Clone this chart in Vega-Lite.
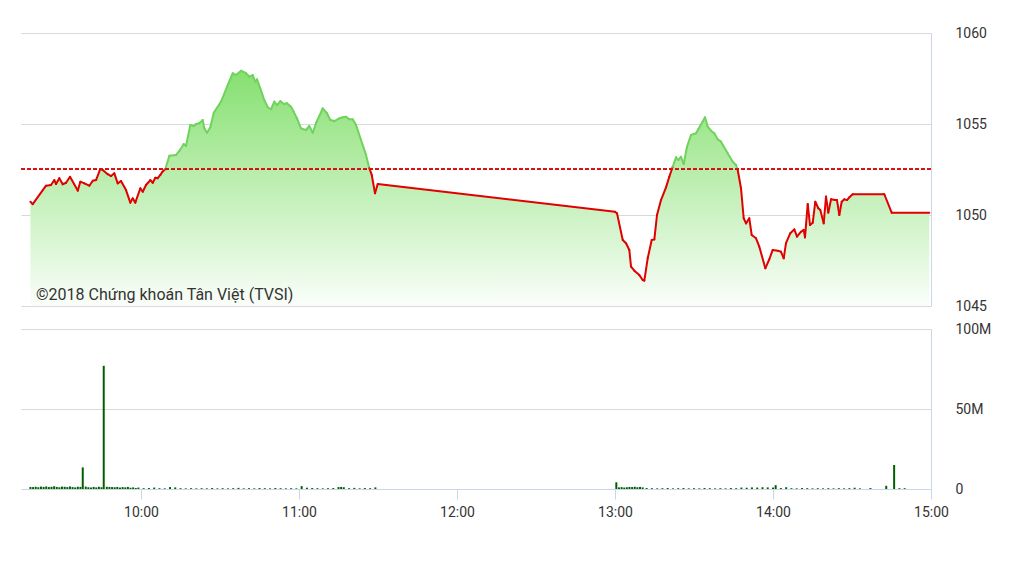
{
  "$schema": "https://vega.github.io/schema/vega-lite/v6.json",
  "background": "white",
  "padding": {"top": 26, "left": 20, "right": 5, "bottom": 5},
  "bounds": "flush",
  "spacing": 23,
  "config": {
    "view": {"stroke": null},
    "font": "Roboto",
    "axis": {
      "labelFont": "Roboto",
      "labelFontSize": 14,
      "labelColor": "#333333",
      "gridColor": "#d9d9d9",
      "domainColor": "#ccd6eb",
      "tickColor": "#ccd6eb",
      "title": null
    }
  },
  "vconcat": [
    {
      "width": 910,
      "height": 273,
      "data": {
        "format": {"parse": {"t": "date"}},
        "values": [
          {"t": "2018-01-01T09:18:00", "p": 1050.73},
          {"t": "2018-01-01T09:18:52", "p": 1050.60},
          {"t": "2018-01-01T09:23:55", "p": 1051.61},
          {"t": "2018-01-01T09:25:49", "p": 1051.65},
          {"t": "2018-01-01T09:27:05", "p": 1051.92},
          {"t": "2018-01-01T09:27:43", "p": 1051.70},
          {"t": "2018-01-01T09:28:58", "p": 1052.02},
          {"t": "2018-01-01T09:30:16", "p": 1051.69},
          {"t": "2018-01-01T09:31:31", "p": 1051.77},
          {"t": "2018-01-01T09:33:02", "p": 1052.10},
          {"t": "2018-01-01T09:35:58", "p": 1051.34},
          {"t": "2018-01-01T09:36:57", "p": 1051.83},
          {"t": "2018-01-01T09:38:28", "p": 1051.74},
          {"t": "2018-01-01T09:40:22", "p": 1051.61},
          {"t": "2018-01-01T09:41:40", "p": 1051.88},
          {"t": "2018-01-01T09:42:55", "p": 1051.92},
          {"t": "2018-01-01T09:44:32", "p": 1052.53},
          {"t": "2018-01-01T09:45:27", "p": 1052.47},
          {"t": "2018-01-01T09:47:21", "p": 1052.24},
          {"t": "2018-01-01T09:48:37", "p": 1052.14},
          {"t": "2018-01-01T09:49:52", "p": 1052.29},
          {"t": "2018-01-01T09:51:09", "p": 1051.74},
          {"t": "2018-01-01T09:52:24", "p": 1051.87},
          {"t": "2018-01-01T09:54:18", "p": 1051.37},
          {"t": "2018-01-01T09:55:56", "p": 1050.68},
          {"t": "2018-01-01T09:56:51", "p": 1050.92},
          {"t": "2018-01-01T09:57:50", "p": 1050.68},
          {"t": "2018-01-01T09:59:44", "p": 1051.47},
          {"t": "2018-01-01T10:00:39", "p": 1051.28},
          {"t": "2018-01-01T10:01:54", "p": 1051.65},
          {"t": "2018-01-01T10:03:32", "p": 1051.92},
          {"t": "2018-01-01T10:04:27", "p": 1051.77},
          {"t": "2018-01-01T10:05:26", "p": 1052.05},
          {"t": "2018-01-01T10:06:20", "p": 1052.02},
          {"t": "2018-01-01T10:07:20", "p": 1052.20},
          {"t": "2018-01-01T10:07:58", "p": 1052.35},
          {"t": "2018-01-01T10:09:14", "p": 1052.53},
          {"t": "2018-01-01T10:10:45", "p": 1053.26},
          {"t": "2018-01-01T10:13:17", "p": 1053.30},
          {"t": "2018-01-01T10:14:33", "p": 1053.52},
          {"t": "2018-01-01T10:16:13", "p": 1053.90},
          {"t": "2018-01-01T10:17:05", "p": 1053.79},
          {"t": "2018-01-01T10:18:43", "p": 1054.95},
          {"t": "2018-01-01T10:20:01", "p": 1054.89},
          {"t": "2018-01-01T10:20:53", "p": 1055.00},
          {"t": "2018-01-01T10:22:08", "p": 1055.04},
          {"t": "2018-01-01T10:23:26", "p": 1055.22},
          {"t": "2018-01-01T10:24:02", "p": 1054.76},
          {"t": "2018-01-01T10:25:04", "p": 1054.52},
          {"t": "2018-01-01T10:26:19", "p": 1054.82},
          {"t": "2018-01-01T10:27:37", "p": 1055.62},
          {"t": "2018-01-01T10:30:23", "p": 1056.23},
          {"t": "2018-01-01T10:32:55", "p": 1057.14},
          {"t": "2018-01-01T10:34:49", "p": 1057.79},
          {"t": "2018-01-01T10:36:05", "p": 1057.69},
          {"t": "2018-01-01T10:37:59", "p": 1057.93},
          {"t": "2018-01-01T10:39:52", "p": 1057.79},
          {"t": "2018-01-01T10:41:08", "p": 1057.60},
          {"t": "2018-01-01T10:42:25", "p": 1057.69},
          {"t": "2018-01-01T10:43:24", "p": 1057.32},
          {"t": "2018-01-01T10:44:03", "p": 1057.46},
          {"t": "2018-01-01T10:45:18", "p": 1056.96},
          {"t": "2018-01-01T10:46:49", "p": 1056.32},
          {"t": "2018-01-01T10:48:07", "p": 1055.92},
          {"t": "2018-01-01T10:49:22", "p": 1055.81},
          {"t": "2018-01-01T10:50:37", "p": 1056.23},
          {"t": "2018-01-01T10:51:39", "p": 1056.04},
          {"t": "2018-01-01T10:52:54", "p": 1056.26},
          {"t": "2018-01-01T10:54:11", "p": 1056.10},
          {"t": "2018-01-01T10:55:26", "p": 1056.14},
          {"t": "2018-01-01T10:56:58", "p": 1055.95},
          {"t": "2018-01-01T10:57:59", "p": 1055.68},
          {"t": "2018-01-01T10:59:14", "p": 1055.31},
          {"t": "2018-01-01T11:00:46", "p": 1054.76},
          {"t": "2018-01-01T11:02:40", "p": 1054.67},
          {"t": "2018-01-01T11:03:55", "p": 1054.89},
          {"t": "2018-01-01T11:05:12", "p": 1054.52},
          {"t": "2018-01-01T11:06:27", "p": 1055.04},
          {"t": "2018-01-01T11:09:00", "p": 1055.86},
          {"t": "2018-01-01T11:10:38", "p": 1055.59},
          {"t": "2018-01-01T11:11:53", "p": 1055.22},
          {"t": "2018-01-01T11:13:24", "p": 1055.16},
          {"t": "2018-01-01T11:15:18", "p": 1055.31},
          {"t": "2018-01-01T11:16:36", "p": 1055.37},
          {"t": "2018-01-01T11:17:51", "p": 1055.40},
          {"t": "2018-01-01T11:19:06", "p": 1055.26},
          {"t": "2018-01-01T11:20:23", "p": 1055.26},
          {"t": "2018-01-01T11:21:39", "p": 1054.95},
          {"t": "2018-01-01T11:23:33", "p": 1054.12},
          {"t": "2018-01-01T11:25:26", "p": 1053.30},
          {"t": "2018-01-01T11:26:42", "p": 1052.57},
          {"t": "2018-01-01T11:27:37", "p": 1052.20},
          {"t": "2018-01-01T11:28:52", "p": 1051.19},
          {"t": "2018-01-01T11:29:53", "p": 1051.70},
          {"t": "2018-01-01T13:00:00", "p": 1050.18},
          {"t": "2018-01-01T13:00:46", "p": 1050.09},
          {"t": "2018-01-01T13:02:56", "p": 1048.63},
          {"t": "2018-01-01T13:04:11", "p": 1048.45},
          {"t": "2018-01-01T13:05:26", "p": 1048.08},
          {"t": "2018-01-01T13:06:05", "p": 1047.16},
          {"t": "2018-01-01T13:07:20", "p": 1046.94},
          {"t": "2018-01-01T13:09:14", "p": 1046.70},
          {"t": "2018-01-01T13:10:31", "p": 1046.43},
          {"t": "2018-01-01T13:11:08", "p": 1046.39},
          {"t": "2018-01-01T13:12:25", "p": 1047.62},
          {"t": "2018-01-01T13:13:56", "p": 1048.63},
          {"t": "2018-01-01T13:14:56", "p": 1048.66},
          {"t": "2018-01-01T13:15:57", "p": 1050.00},
          {"t": "2018-01-01T13:17:28", "p": 1050.82},
          {"t": "2018-01-01T13:19:22", "p": 1051.52},
          {"t": "2018-01-01T13:20:37", "p": 1052.10},
          {"t": "2018-01-01T13:21:55", "p": 1052.65},
          {"t": "2018-01-01T13:23:10", "p": 1053.17},
          {"t": "2018-01-01T13:24:02", "p": 1053.02},
          {"t": "2018-01-01T13:25:04", "p": 1053.20},
          {"t": "2018-01-01T13:26:05", "p": 1052.80},
          {"t": "2018-01-01T13:27:20", "p": 1053.75},
          {"t": "2018-01-01T13:28:52", "p": 1054.40},
          {"t": "2018-01-01T13:30:46", "p": 1054.49},
          {"t": "2018-01-01T13:31:38", "p": 1054.71},
          {"t": "2018-01-01T13:34:11", "p": 1055.37},
          {"t": "2018-01-01T13:35:12", "p": 1054.85},
          {"t": "2018-01-01T13:36:28", "p": 1054.63},
          {"t": "2018-01-01T13:37:43", "p": 1054.49},
          {"t": "2018-01-01T13:39:00", "p": 1054.16},
          {"t": "2018-01-01T13:40:15", "p": 1054.03},
          {"t": "2018-01-01T13:42:48", "p": 1053.39},
          {"t": "2018-01-01T13:44:42", "p": 1052.93},
          {"t": "2018-01-01T13:45:57", "p": 1052.75},
          {"t": "2018-01-01T13:46:36", "p": 1052.47},
          {"t": "2018-01-01T13:47:51", "p": 1051.47},
          {"t": "2018-01-01T13:48:52", "p": 1049.82},
          {"t": "2018-01-01T13:49:45", "p": 1049.54},
          {"t": "2018-01-01T13:51:00", "p": 1049.82},
          {"t": "2018-01-01T13:51:55", "p": 1048.90},
          {"t": "2018-01-01T13:53:33", "p": 1048.72},
          {"t": "2018-01-01T13:54:48", "p": 1048.26},
          {"t": "2018-01-01T13:57:05", "p": 1047.07},
          {"t": "2018-01-01T13:58:36", "p": 1047.57},
          {"t": "2018-01-01T13:59:53", "p": 1048.08},
          {"t": "2018-01-01T14:01:47", "p": 1048.04},
          {"t": "2018-01-01T14:03:02", "p": 1047.98},
          {"t": "2018-01-01T14:04:04", "p": 1047.62},
          {"t": "2018-01-01T14:04:56", "p": 1048.45},
          {"t": "2018-01-01T14:06:34", "p": 1049.00},
          {"t": "2018-01-01T14:08:05", "p": 1049.21},
          {"t": "2018-01-01T14:09:07", "p": 1048.81},
          {"t": "2018-01-01T14:10:38", "p": 1049.08},
          {"t": "2018-01-01T14:11:40", "p": 1049.18},
          {"t": "2018-01-01T14:12:09", "p": 1048.77},
          {"t": "2018-01-01T14:13:11", "p": 1050.60},
          {"t": "2018-01-01T14:14:03", "p": 1049.45},
          {"t": "2018-01-01T14:15:05", "p": 1049.58},
          {"t": "2018-01-01T14:16:04", "p": 1050.73},
          {"t": "2018-01-01T14:17:12", "p": 1050.37},
          {"t": "2018-01-01T14:17:58", "p": 1050.27},
          {"t": "2018-01-01T14:19:15", "p": 1049.54},
          {"t": "2018-01-01T14:20:08", "p": 1051.01},
          {"t": "2018-01-01T14:21:00", "p": 1050.13},
          {"t": "2018-01-01T14:22:02", "p": 1050.86},
          {"t": "2018-01-01T14:23:32", "p": 1050.82},
          {"t": "2018-01-01T14:24:18", "p": 1050.82},
          {"t": "2018-01-01T14:25:11", "p": 1050.00},
          {"t": "2018-01-01T14:26:05", "p": 1050.73},
          {"t": "2018-01-01T14:27:05", "p": 1050.86},
          {"t": "2018-01-01T14:28:06", "p": 1050.82},
          {"t": "2018-01-01T14:28:59", "p": 1050.97},
          {"t": "2018-01-01T14:30:16", "p": 1051.14},
          {"t": "2018-01-01T14:42:16", "p": 1051.14},
          {"t": "2018-01-01T14:45:04", "p": 1050.13},
          {"t": "2018-01-01T14:59:22", "p": 1050.13}
        ]
      },
      "layer": [
        {
          "mark": {
            "type": "area",
            "fill": {
              "gradient": "linear",
              "x1": 0, "y1": 0, "x2": 0, "y2": 1,
              "stops": [
                {"offset": 0, "color": "#86e070"},
                {"offset": 1, "color": "#fafefa"}
              ]
            }
          },
          "encoding": {
            "x": {
              "field": "t", "type": "temporal",
              "scale": {"domain": [
                {"year": 2018, "month": 1, "date": 1, "hours": 9, "minutes": 14, "seconds": 25},
                {"year": 2018, "month": 1, "date": 1, "hours": 15, "minutes": 0, "seconds": 0}
              ], "nice": false, "padding": 0},
              "axis": null
            },
            "y": {
              "field": "p", "type": "quantitative",
              "scale": {"domain": [1045, 1060], "zero": false, "nice": false, "padding": 0},
              "axis": {
                "orient": "right", "values": [1045, 1050, 1055, 1060], "format": "d",
                "grid": true, "ticks": false, "labelPadding": 24,
                "labelAlign": "left", "labelBaseline": "middle"
              }
            },
            "y2": {"datum": 1045}
          }
        },
        {
          "transform": [
            {"window": [{"op": "lead", "field": "t", "as": "t2"}, {"op": "lead", "field": "p", "as": "p2"}],
             "sort": [{"field": "t", "order": "ascending"}]},
            {"filter": "datum.p2 != null"}
          ],
          "mark": {"type": "rule", "strokeWidth": 2, "strokeCap": "round"},
          "encoding": {
            "x": {"field": "t", "type": "temporal"},
            "x2": {"field": "t2"},
            "y": {"field": "p", "type": "quantitative"},
            "y2": {"field": "p2"},
            "color": {
              "condition": {"test": "datum.p + datum.p2 >= 2105.1", "value": "#6fd35c"},
              "value": "#e00000"
            }
          }
        },
        {
          "mark": {"type": "rule", "color": "#d81818", "strokeDash": [4, 2], "strokeWidth": 1},
          "encoding": {"y": {"datum": 1052.55}}
        },
        {
          "data": {"values": [{"label": "©2018 Chứng khoán Tân Việt (TVSI)"}]},
          "mark": {
            "type": "text",
            "align": "left", "baseline": "alphabetic",
            "font": "Roboto", "fontSize": 16, "color": "#333333"
          },
          "encoding": {
            "text": {"field": "label"},
            "x": {"datum": {"year": 2018, "month": 1, "date": 1, "hours": 9, "minutes": 20, "seconds": 8}, "type": "temporal"},
            "y": {"datum": 1045.33, "type": "quantitative"}
          }
        }
      ]
    },
    {
      "width": 910,
      "height": 160,
      "data": {
        "format": {"parse": {"t": "date"}},
        "values": [
          {"t": "2018-01-01T09:18:00", "v": 1300000},
          {"t": "2018-01-01T09:19:00", "v": 1200000},
          {"t": "2018-01-01T09:20:00", "v": 1400000},
          {"t": "2018-01-01T09:21:00", "v": 1100000},
          {"t": "2018-01-01T09:22:00", "v": 1500000},
          {"t": "2018-01-01T09:23:00", "v": 1300000},
          {"t": "2018-01-01T09:24:00", "v": 1600000},
          {"t": "2018-01-01T09:25:00", "v": 1200000},
          {"t": "2018-01-01T09:26:00", "v": 1400000},
          {"t": "2018-01-01T09:27:00", "v": 1700000},
          {"t": "2018-01-01T09:28:00", "v": 1300000},
          {"t": "2018-01-01T09:29:00", "v": 1100000},
          {"t": "2018-01-01T09:30:00", "v": 1500000},
          {"t": "2018-01-01T09:31:00", "v": 1400000},
          {"t": "2018-01-01T09:32:00", "v": 1200000},
          {"t": "2018-01-01T09:33:00", "v": 1600000},
          {"t": "2018-01-01T09:34:00", "v": 1200000},
          {"t": "2018-01-01T09:35:00", "v": 1000000},
          {"t": "2018-01-01T09:36:00", "v": 1400000},
          {"t": "2018-01-01T09:37:00", "v": 1300000},
          {"t": "2018-01-01T09:37:52", "v": 13500000},
          {"t": "2018-01-01T09:39:00", "v": 1500000},
          {"t": "2018-01-01T09:40:00", "v": 1100000},
          {"t": "2018-01-01T09:41:00", "v": 900000},
          {"t": "2018-01-01T09:42:00", "v": 1300000},
          {"t": "2018-01-01T09:43:00", "v": 1000000},
          {"t": "2018-01-01T09:44:00", "v": 1400000},
          {"t": "2018-01-01T09:45:00", "v": 1100000},
          {"t": "2018-01-01T09:45:50", "v": 77000000},
          {"t": "2018-01-01T09:47:00", "v": 1400000},
          {"t": "2018-01-01T09:48:00", "v": 1300000},
          {"t": "2018-01-01T09:49:00", "v": 1200000},
          {"t": "2018-01-01T09:50:00", "v": 1100000},
          {"t": "2018-01-01T09:51:00", "v": 1300000},
          {"t": "2018-01-01T09:52:00", "v": 900000},
          {"t": "2018-01-01T09:53:00", "v": 1200000},
          {"t": "2018-01-01T09:54:00", "v": 1000000},
          {"t": "2018-01-01T09:55:00", "v": 1300000},
          {"t": "2018-01-01T09:56:00", "v": 800000},
          {"t": "2018-01-01T09:57:00", "v": 1000000},
          {"t": "2018-01-01T09:58:00", "v": 600000},
          {"t": "2018-01-01T09:59:00", "v": 900000},
          {"t": "2018-01-01T10:01:00", "v": 500000},
          {"t": "2018-01-01T10:03:00", "v": 600000},
          {"t": "2018-01-01T10:05:00", "v": 900000},
          {"t": "2018-01-01T10:07:00", "v": 500000},
          {"t": "2018-01-01T10:09:00", "v": 400000},
          {"t": "2018-01-01T10:11:00", "v": 1200000},
          {"t": "2018-01-01T10:13:00", "v": 1000000},
          {"t": "2018-01-01T10:15:00", "v": 500000},
          {"t": "2018-01-01T10:17:00", "v": 400000},
          {"t": "2018-01-01T10:19:00", "v": 500000},
          {"t": "2018-01-01T10:21:00", "v": 400000},
          {"t": "2018-01-01T10:23:00", "v": 500000},
          {"t": "2018-01-01T10:25:00", "v": 400000},
          {"t": "2018-01-01T10:27:00", "v": 600000},
          {"t": "2018-01-01T10:29:00", "v": 400000},
          {"t": "2018-01-01T10:31:00", "v": 500000},
          {"t": "2018-01-01T10:33:00", "v": 400000},
          {"t": "2018-01-01T10:35:00", "v": 500000},
          {"t": "2018-01-01T10:37:00", "v": 700000},
          {"t": "2018-01-01T10:39:00", "v": 400000},
          {"t": "2018-01-01T10:41:00", "v": 500000},
          {"t": "2018-01-01T10:43:00", "v": 400000},
          {"t": "2018-01-01T10:45:00", "v": 600000},
          {"t": "2018-01-01T10:47:00", "v": 500000},
          {"t": "2018-01-01T10:49:00", "v": 400000},
          {"t": "2018-01-01T10:51:00", "v": 600000},
          {"t": "2018-01-01T10:53:00", "v": 500000},
          {"t": "2018-01-01T10:55:00", "v": 400000},
          {"t": "2018-01-01T10:57:00", "v": 500000},
          {"t": "2018-01-01T10:59:00", "v": 400000},
          {"t": "2018-01-01T11:01:00", "v": 1800000},
          {"t": "2018-01-01T11:03:00", "v": 800000},
          {"t": "2018-01-01T11:05:00", "v": 600000},
          {"t": "2018-01-01T11:07:00", "v": 500000},
          {"t": "2018-01-01T11:09:00", "v": 400000},
          {"t": "2018-01-01T11:11:00", "v": 500000},
          {"t": "2018-01-01T11:13:00", "v": 600000},
          {"t": "2018-01-01T11:15:00", "v": 1200000},
          {"t": "2018-01-01T11:16:00", "v": 1300000},
          {"t": "2018-01-01T11:17:00", "v": 1100000},
          {"t": "2018-01-01T11:19:00", "v": 500000},
          {"t": "2018-01-01T11:21:00", "v": 700000},
          {"t": "2018-01-01T11:23:00", "v": 400000},
          {"t": "2018-01-01T11:25:00", "v": 600000},
          {"t": "2018-01-01T11:27:00", "v": 500000},
          {"t": "2018-01-01T11:29:00", "v": 1000000},
          {"t": "2018-01-01T13:00:30", "v": 4200000},
          {"t": "2018-01-01T13:01:30", "v": 1000000},
          {"t": "2018-01-01T13:02:30", "v": 1200000},
          {"t": "2018-01-01T13:03:30", "v": 900000},
          {"t": "2018-01-01T13:04:30", "v": 1100000},
          {"t": "2018-01-01T13:05:30", "v": 1300000},
          {"t": "2018-01-01T13:06:30", "v": 1200000},
          {"t": "2018-01-01T13:07:30", "v": 1400000},
          {"t": "2018-01-01T13:08:30", "v": 1100000},
          {"t": "2018-01-01T13:09:30", "v": 1300000},
          {"t": "2018-01-01T13:10:30", "v": 1000000},
          {"t": "2018-01-01T13:12:00", "v": 600000},
          {"t": "2018-01-01T13:14:00", "v": 500000},
          {"t": "2018-01-01T13:16:00", "v": 400000},
          {"t": "2018-01-01T13:18:00", "v": 500000},
          {"t": "2018-01-01T13:20:00", "v": 600000},
          {"t": "2018-01-01T13:22:00", "v": 400000},
          {"t": "2018-01-01T13:24:00", "v": 500000},
          {"t": "2018-01-01T13:26:00", "v": 600000},
          {"t": "2018-01-01T13:28:00", "v": 400000},
          {"t": "2018-01-01T13:30:00", "v": 500000},
          {"t": "2018-01-01T13:32:00", "v": 400000},
          {"t": "2018-01-01T13:34:00", "v": 600000},
          {"t": "2018-01-01T13:36:00", "v": 500000},
          {"t": "2018-01-01T13:38:00", "v": 400000},
          {"t": "2018-01-01T13:40:00", "v": 500000},
          {"t": "2018-01-01T13:42:00", "v": 400000},
          {"t": "2018-01-01T13:44:00", "v": 600000},
          {"t": "2018-01-01T13:46:00", "v": 500000},
          {"t": "2018-01-01T13:48:00", "v": 900000},
          {"t": "2018-01-01T13:50:00", "v": 800000},
          {"t": "2018-01-01T13:52:00", "v": 1000000},
          {"t": "2018-01-01T13:54:00", "v": 900000},
          {"t": "2018-01-01T13:56:00", "v": 1100000},
          {"t": "2018-01-01T13:58:00", "v": 1000000},
          {"t": "2018-01-01T14:00:00", "v": 900000},
          {"t": "2018-01-01T14:01:00", "v": 2400000},
          {"t": "2018-01-01T14:03:00", "v": 600000},
          {"t": "2018-01-01T14:05:00", "v": 1100000},
          {"t": "2018-01-01T14:07:00", "v": 500000},
          {"t": "2018-01-01T14:09:00", "v": 400000},
          {"t": "2018-01-01T14:11:00", "v": 600000},
          {"t": "2018-01-01T14:13:00", "v": 500000},
          {"t": "2018-01-01T14:15:00", "v": 400000},
          {"t": "2018-01-01T14:17:00", "v": 500000},
          {"t": "2018-01-01T14:19:00", "v": 400000},
          {"t": "2018-01-01T14:21:00", "v": 500000},
          {"t": "2018-01-01T14:23:00", "v": 400000},
          {"t": "2018-01-01T14:25:00", "v": 500000},
          {"t": "2018-01-01T14:27:00", "v": 400000},
          {"t": "2018-01-01T14:29:00", "v": 500000},
          {"t": "2018-01-01T14:31:00", "v": 800000},
          {"t": "2018-01-01T14:33:00", "v": 400000},
          {"t": "2018-01-01T14:37:00", "v": 600000},
          {"t": "2018-01-01T14:43:00", "v": 2000000},
          {"t": "2018-01-01T14:46:00", "v": 15000000},
          {"t": "2018-01-01T14:48:00", "v": 500000},
          {"t": "2018-01-01T14:50:00", "v": 500000}
        ]
      },
      "mark": {"type": "bar", "color": "#006000", "width": 2},
      "encoding": {
        "x": {
          "field": "t", "type": "temporal",
          "scale": {"domain": [
            {"year": 2018, "month": 1, "date": 1, "hours": 9, "minutes": 14, "seconds": 25},
            {"year": 2018, "month": 1, "date": 1, "hours": 15, "minutes": 0, "seconds": 0}
          ], "nice": false, "padding": 0},
          "axis": {
            "values": [
              {"year": 2018, "month": 1, "date": 1, "hours": 10},
              {"year": 2018, "month": 1, "date": 1, "hours": 11},
              {"year": 2018, "month": 1, "date": 1, "hours": 12},
              {"year": 2018, "month": 1, "date": 1, "hours": 13},
              {"year": 2018, "month": 1, "date": 1, "hours": 14},
              {"year": 2018, "month": 1, "date": 1, "hours": 15}
            ],
            "format": "%H:%M", "grid": false, "tickSize": 10, "labelPadding": 6,
            "labelFlush": false, "labelOverlap": false
          }
        },
        "y": {
          "field": "v", "type": "quantitative",
          "scale": {"domain": [0, 100000000], "nice": false, "padding": 0},
          "axis": {
            "orient": "right", "values": [0, 50000000, 100000000],
            "labelExpr": "datum.value == 0 ? '0' : format(datum.value, '~s')",
            "grid": true, "ticks": false, "labelPadding": 24,
            "labelAlign": "left", "labelBaseline": "middle"
          }
        }
      }
    }
  ]
}
